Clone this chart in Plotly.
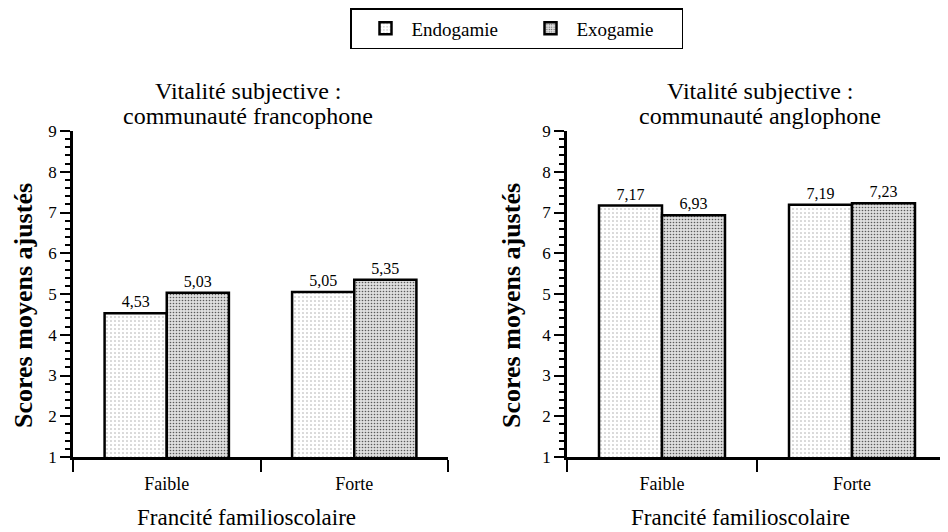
import plotly.graph_objects as go
from plotly.subplots import make_subplots

categories = ["Faible", "Forte"]
series_names = ["Endogamie", "Exogamie"]
franco_endo = [4.53, 5.05]
franco_exo = [5.03, 5.35]
anglo_endo = [7.17, 7.19]
anglo_exo = [6.93, 7.23]
title_line1 = "Vitalité subjective :"
title_line2 = ["communauté francophone", "communauté anglophone"]
y_title = "Scores moyens ajustés"
x_title = "Francité familioscolaire"
y_ticks = [1, 2, 3, 4, 5, 6, 7, 8, 9]

W, H = 948, 532
OFF = 8  # page body margin
def px(x):
    return (x - OFF) / W
def py(y):
    return 1 - (y - OFF) / H

SERIF = "Liberation Serif"

fig = make_subplots(rows=1, cols=2)

patterns = [
    dict(shape=".", fgcolor="#a8a8a8", bgcolor="#ffffff", size=4, solidity=0.12, fillmode="replace"),
    dict(shape=".", fgcolor="#5a5a5a", bgcolor="#dedede", size=3, solidity=0.22, fillmode="replace"),
]

data = [[franco_endo, franco_exo], [anglo_endo, anglo_exo]]
for col, panel in enumerate(data, start=1):
    for i, vals in enumerate(panel):
        fig.add_trace(go.Bar(
            x=categories, y=vals, name=series_names[i],
            showlegend=(col == 1),
            marker=dict(color="#ffffff", pattern=patterns[i],
                        line=dict(color="black", width=2.5)),
            texttemplate="%{y:.2f}", textposition="outside",
            textfont=dict(family=SERIF, size=16, color="black"),
            cliponaxis=False,
        ), row=1, col=col)

domains = [(73, 448), (567, 947)]
for col in (1, 2):
    xd = domains[col - 1]
    fig.update_xaxes(
        type="category", range=[-0.5, 1.5], domain=[px(xd[0]), px(xd[1])],
        automargin=False,
        showline=True, linecolor="black", linewidth=2.5,
        ticks="outside", tickson="boundaries", ticklen=12, tickwidth=2, tickcolor="black",
        ticklabelstandoff=9,
        tickfont=dict(family=SERIF, size=18, color="black"),
        showgrid=False, zeroline=False, row=1, col=col)
    fig.update_yaxes(
        range=[1, 9], domain=[py(457), py(131)], tickvals=y_ticks,
        automargin=False,
        showline=True, linecolor="black", linewidth=2.5,
        ticks="outside", ticklen=10, tickwidth=2, tickcolor="black",
        minor=dict(dtick=0.2, ticks="outside", ticklen=5, tickwidth=1.5, tickcolor="black", showgrid=False),
        tickfont=dict(family=SERIF, size=17, color="black"),
        showgrid=False, zeroline=False, row=1, col=col)

annotations = []
title_centers = [248, 760]
xtitle_centers = [247, 740]
ytitle_x = [23, 511]
for k in range(2):
    annotations.append(dict(
        text=title_line1, x=px(title_centers[k]), y=py(91), xref="paper", yref="paper",
        xanchor="center", yanchor="middle", showarrow=False,
        font=dict(family=SERIF, size=24, color="black")))
    annotations.append(dict(
        text=title_line2[k], x=px(title_centers[k]), y=py(116), xref="paper", yref="paper",
        xanchor="center", yanchor="middle", showarrow=False,
        font=dict(family=SERIF, size=24, color="black")))
    annotations.append(dict(
        text=x_title, x=px(xtitle_centers[k]), y=py(517), xref="paper", yref="paper",
        xanchor="center", yanchor="middle", showarrow=False,
        font=dict(family=SERIF, size=23, color="black")))
    annotations.append(dict(
        text="<b>" + y_title + "</b>", x=px(ytitle_x[k]), y=py(306), xref="paper", yref="paper",
        xanchor="center", yanchor="middle", showarrow=False, textangle=-90,
        font=dict(family=SERIF, size=26, color="black")))

fig.update_layout(
    width=W, height=H, margin=dict(l=0, r=0, t=0, b=0, autoexpand=False),
    paper_bgcolor="white", plot_bgcolor="white",
    barmode="group", bargap=0.337, bargroupgap=0,
    separators=", ",
    annotations=annotations,
    showlegend=True,
    legend=dict(orientation="h", x=px(350), xanchor="left", y=py(8), yanchor="top",
                bordercolor="black", borderwidth=1.5, bgcolor="white",
                font=dict(family=SERIF, size=19, color="black"),
                entrywidth=100, indentation=8, itemwidth=42, itemclick=False),
    font=dict(family=SERIF, color="black"),
)

fig.write_html("out.html")
